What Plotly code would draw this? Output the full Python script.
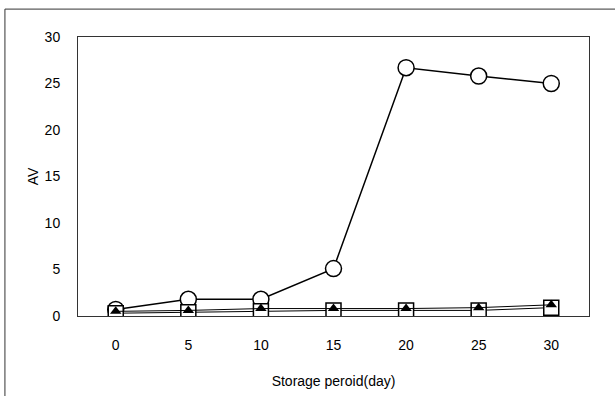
import plotly.graph_objects as go

days = [0, 5, 10, 15, 20, 25, 30]
av_circle = [0.7, 1.8, 1.8, 5.1, 26.7, 25.8, 25.0]
av_square = [0.3, 0.4, 0.5, 0.6, 0.6, 0.6, 0.9]
av_triangle = [0.5, 0.6, 0.8, 0.8, 0.8, 0.9, 1.2]

x_ticks = [0, 5, 10, 15, 20, 25, 30]
y_ticks = [0, 5, 10, 15, 20, 25, 30]

fig = go.Figure()
fig.add_trace(go.Scatter(x=days, y=av_circle, mode="lines+markers",
                         line=dict(color="black", width=1.5),
                         marker=dict(symbol="circle", size=16, color="white",
                                     line=dict(color="black", width=1.5))))
fig.add_trace(go.Scatter(x=days, y=av_square, mode="lines+markers",
                         line=dict(color="black", width=1),
                         marker=dict(symbol="square", size=15, color="white",
                                     line=dict(color="black", width=1.5))))
fig.add_trace(go.Scatter(x=days, y=av_triangle, mode="lines+markers",
                         line=dict(color="black", width=1),
                         marker=dict(symbol="triangle-up", size=10, color="black",
                                     line=dict(color="black", width=0))))

font = dict(family="Liberation Sans, Arial, sans-serif", size=14, color="black")

fig.update_layout(
    width=615, height=396,
    margin=dict(l=78, r=26, t=37, b=80),
    paper_bgcolor="white", plot_bgcolor="white",
    showlegend=False,
    font=font,
    xaxis=dict(range=[-2.6, 32.6], tickvals=x_ticks, showgrid=False, zeroline=False,
               showline=True, linecolor="#333", linewidth=1, mirror=True,
               ticks="", ticklabelstandoff=16, automargin=False,
               title=dict(text="Storage peroid(day)", standoff=24, font=font)),
    yaxis=dict(range=[0, 30], tickvals=y_ticks, showgrid=False, zeroline=False,
               showline=True, linecolor="#333", linewidth=1, mirror=True,
               ticks="", ticklabelstandoff=14, automargin=False,
               title=dict(text="AV", standoff=2, font=font)),
    shapes=[
        dict(type="line", xref="paper", yref="paper", x0=-0.143, x1=-0.143,
             y0=1.1, y1=-0.3, line=dict(color="#333", width=1)),
        dict(type="line", xref="paper", yref="paper", x0=-0.143, x1=1.06,
             y0=1.1, y1=1.1, line=dict(color="#333", width=1)),
    ],
)

fig.write_html("out.html", config={"displayModeBar": False},
               post_script="document.body.style.margin='0';document.body.style.overflow='hidden';")
